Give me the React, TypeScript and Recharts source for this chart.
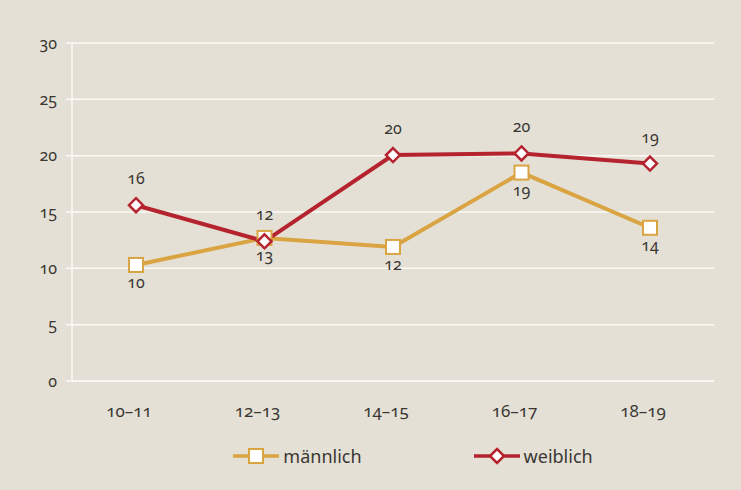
import React from 'react';
import {
  LineChart,
  Line,
  XAxis,
  YAxis,
  CartesianGrid,
  Legend,
  LabelList,
} from 'recharts';

const ageGroups = ['10–11', '12–13', '14–15', '16–17', '18–19'];
const maleValues = [10.3, 12.7, 11.9, 18.5, 13.6];
const femaleValues = [15.6, 12.4, 20.05, 20.2, 19.3];
const yTicks = [0, 5, 10, 15, 20, 25, 30];

const GOLD = '#d9a441';
const RED = '#b5232f';
const TEXT = '#3a3733';
const FONT = '"Noto Sans", "Open Sans", sans-serif';

const chartData = ageGroups.map((g, i) => ({
  group: g,
  male: maleValues[i],
  female: femaleValues[i],
}));

// hohle Quadrate für männlich
function SquareDot(props: any) {
  const { cx, cy, index } = props;
  if (cx == null || cy == null) return null;
  return (
    <rect key={`sq-${index}`} x={cx - 7} y={cy - 7} width={14} height={14}
      fill="#fff" stroke={GOLD} strokeWidth={2} />
  );
}

// Rauten für weiblich
function DiamondDot(props: any) {
  const { cx, cy, index } = props;
  if (cx == null || cy == null) return null;
  const r = 7;
  return (
    <path key={`di-${index}`}
      d={`M${cx},${cy - r} L${cx + r},${cy} L${cx},${cy + r} L${cx - r},${cy} Z`}
      fill="#fff" stroke={RED} strokeWidth={2.5} />
  );
}

function LegendContent() {
  const item = (color: string, marker: React.ReactNode, label: string) => (
    <div style={{ display: 'flex', alignItems: 'center' }}>
      <svg width={46} height={20}>
        <line x1={0} y1={10} x2={46} y2={10} stroke={color} strokeWidth={3.5} />
        {marker}
      </svg>
      <span style={{ marginLeft: 4, fontSize: 18, color: TEXT, fontFamily: FONT }}>{label}</span>
    </div>
  );
  return (
    <div style={{ display: 'flex', justifyContent: 'center', gap: 112, marginLeft: 102 }}>
      {item(GOLD, <rect x={16} y={3} width={14} height={14} fill="#fff" stroke={GOLD} strokeWidth={2} />, 'männlich')}
      {item(RED, <path d="M23,3 L30,10 L23,17 L16,10 Z" fill="#fff" stroke={RED} strokeWidth={2.5} />, 'weiblich')}
    </div>
  );
}

export default function App() {
  const tick = { fill: TEXT, fontSize: 16, fontFamily: FONT, style: { fontVariantNumeric: 'oldstyle-nums' } };
  const labelStyle = { fill: TEXT, fontSize: 16, fontFamily: FONT, fontVariantNumeric: 'oldstyle-nums' };
  return (
    <div style={{ position: 'absolute', left: 0, top: 0, width: 741, height: 490, background: '#e4e0d5' }}>
      <LineChart width={741} height={490} data={chartData}
        margin={{ top: 43, right: 27, left: 10, bottom: 22 }}>
        <CartesianGrid vertical={false} stroke="#fbfaf6" strokeWidth={1.5} />
        <XAxis dataKey="group" axisLine={{ stroke: '#fbfaf6', strokeWidth: 1.5 }} tickLine={false}
          tick={{ ...tick, fontSize: 17, dx: -7 }} tickMargin={18} height={63}
          padding={{ left: 64, right: 64 }} />
        <YAxis domain={[0, 30]} ticks={yTicks} interval={0}
          axisLine={{ stroke: '#fbfaf6', strokeWidth: 1.5 }}
          tickLine={{ stroke: '#fbfaf6', strokeWidth: 1.5 }} tickSize={6} tickMargin={9}
          tick={tick} width={62} />
        <YAxis yAxisId="right" orientation="right" domain={[0, 30]} width={0}
          axisLine={{ stroke: '#f6f4ee', strokeWidth: 1.5 }} tickLine={false} tick={false} />
        <Legend verticalAlign="bottom" content={<LegendContent />} />
        <Line type="linear" dataKey="male" stroke={GOLD} strokeWidth={4}
          dot={<SquareDot />} activeDot={false} isAnimationActive={false}>
          <LabelList dataKey="male" position="bottom" offset={12}
            formatter={(v: any) => Math.round(Number(v))} style={labelStyle} />
        </Line>
        <Line type="linear" dataKey="female" stroke={RED} strokeWidth={4}
          dot={<DiamondDot />} activeDot={false} isAnimationActive={false}>
          <LabelList dataKey="female" position="top" offset={21}
            formatter={(v: any) => Math.round(Number(v))} style={labelStyle} />
        </Line>
      </LineChart>
    </div>
  );
}
